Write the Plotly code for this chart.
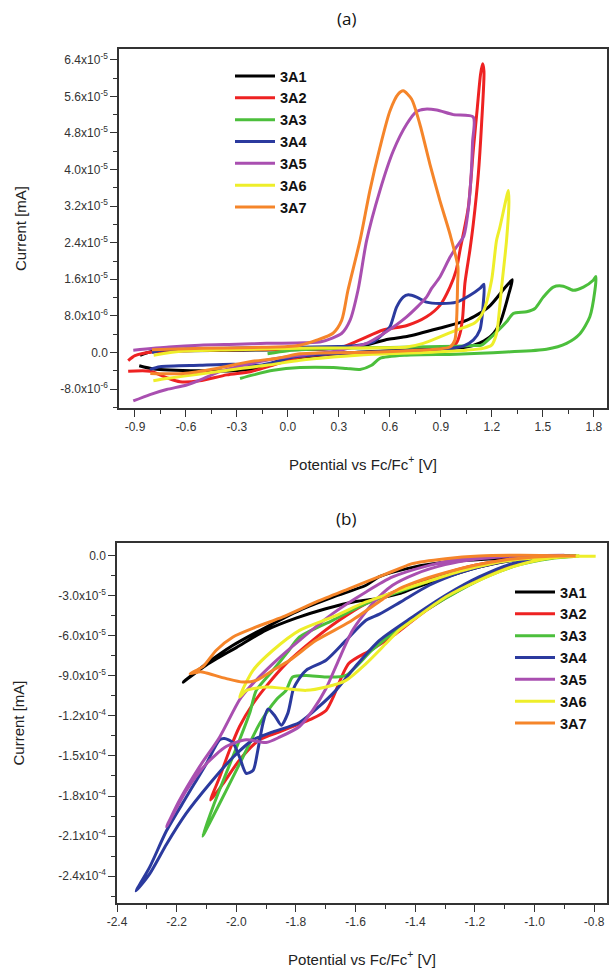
import plotly.graph_objects as go

# ---------------- data: panel (a) ----------------
series_names = ["3A1", "3A2", "3A3", "3A4", "3A5", "3A6", "3A7"]
series_colors = ["#000000", "#ee2222", "#4cbf3c", "#2b3a9e", "#a94fb0", "#eeee2a", "#f5852a"]

a_3A1_x = [-0.87, -0.8, -0.6, -0.3, 0.0, 0.3, 0.45, 0.59, 0.7, 0.89, 1.05, 1.18, 1.28, 1.32,
           1.30, 1.25, 1.20, 1.13, 1.05, 0.89, 0.6, 0.3, 0.1, -0.07, -0.15, -0.32, -0.52, -0.79, -0.875]
a_3A1_y = [-0.6e-6, 0.2e-6, 0.4e-6, 0.5e-6, 0.6e-6, 0.9e-6, 1.6e-6, 2.9e-6, 3.5e-6, 5.3e-6, 7.0e-6, 9.9e-6, 14.3e-6, 15.9e-6,
           12.9e-6, 6.7e-6, 3.8e-6, 2.1e-6, 1.2e-6, 0.8e-6, 0.4e-6, -0.2e-6, -1.0e-6, -2.0e-6, -3.3e-6, -4.0e-6, -4.0e-6, -3.6e-6, -2.9e-6]

a_3A2_x = [-0.94, -0.9, -0.8, -0.6, -0.3, 0.0, 0.3, 0.42, 0.56, 0.7, 0.815, 0.894, 0.953, 0.99, 1.012, 1.061, 1.09, 1.114, 1.133, 1.145,
           1.153, 1.139, 1.12, 1.09, 1.07, 1.041, 1.028, 1.012, 0.99, 0.933, 0.7, 0.3, 0.07, -0.09, -0.22, -0.36, -0.52, -0.635, -0.714, -0.81, -0.94]
a_3A2_y = [-1.8e-6, -0.7e-6, 0.1e-6, 0.4e-6, 0.6e-6, 0.7e-6, 1.0e-6, 2.7e-6, 4.9e-6, 5.9e-6, 7.8e-6, 10.3e-6, 14.3e-6, 18.0e-6, 22.3e-6, 31.7e-6, 44.1e-6, 53.5e-6, 60.8e-6, 63.1e-6,
           61.5e-6, 49.9e-6, 39.0e-6, 28.0e-6, 22.3e-6, 15.1e-6, 7.8e-6, 4.1e-6, 2.0e-6, 0.9e-6, 0.3e-6, -0.2e-6, -1.0e-6, -2.8e-6, -4.2e-6, -4.9e-6, -6.2e-6, -6.4e-6, -5.5e-6, -4.1e-6, -4.1e-6]

a_3A3_x = [-0.12, 0.0, 0.3, 0.6, 0.9, 1.1, 1.139, 1.208, 1.286, 1.325, 1.404, 1.453, 1.502, 1.561, 1.62, 1.679, 1.738, 1.796, 1.812,
           1.806, 1.776, 1.718, 1.639, 1.521, 1.286, 0.99, 0.698, 0.541, 0.492, 0.424, 0.345, 0.267, 0.071, -0.086, -0.204, -0.282]
a_3A3_y = [-0.3e-6, 0.4e-6, 0.9e-6, 1.1e-6, 1.3e-6, 1.5e-6, 1.6e-6, 3.8e-6, 6.7e-6, 8.5e-6, 8.9e-6, 9.6e-6, 12.1e-6, 14.3e-6, 14.5e-6, 13.6e-6, 14.3e-6, 15.8e-6, 16.6e-6,
           13.6e-6, 7.8e-6, 4.1e-6, 2.0e-6, 0.7e-6, 0.1e-6, -0.4e-6, -0.6e-6, -1.3e-6, -2.8e-6, -3.7e-6, -3.5e-6, -3.3e-6, -3.3e-6, -3.9e-6, -4.9e-6, -5.7e-6]

a_3A4_x = [-0.8, -0.75, -0.6, -0.3, 0.0, 0.3, 0.404, 0.502, 0.561, 0.6, 0.639, 0.678, 0.708, 0.757, 0.815, 0.894, 0.992, 1.071, 1.129, 1.153,
           1.149, 1.129, 1.09, 1.031, 0.894, 0.6, 0.3, 0.031, -0.067, -0.165, -0.322, -0.518, -0.753, -0.812]
a_3A4_y = [0.0e-6, 0.5e-6, 0.8e-6, 1.0e-6, 1.1e-6, 1.3e-6, 1.5e-6, 2.3e-6, 4.1e-6, 5.6e-6, 9.9e-6, 12.1e-6, 12.6e-6, 12.1e-6, 11.0e-6, 10.7e-6, 11.0e-6, 12.5e-6, 14.0e-6, 14.9e-6,
           10.7e-6, 4.9e-6, 2.7e-6, 1.4e-6, 0.7e-6, 0.3e-6, -0.2e-6, -1.0e-6, -2.0e-6, -2.8e-6, -2.6e-6, -2.8e-6, -3.1e-6, -3.7e-6]

a_3A5_x = [-0.91, -0.7, -0.518, -0.3, -0.125, 0.1, 0.2, 0.317, 0.365, 0.412, 0.463, 0.541, 0.62, 0.698, 0.757, 0.806, 0.875, 0.973, 1.09,
           1.086, 1.078, 1.06, 1.035, 0.99, 0.953, 0.894, 0.845, 0.815, 0.698, 0.561, 0.463, 0.385, 0.3, 0.1, -0.01, -0.125, -0.263, -0.4, -0.498, -0.596, -0.714, -0.812, -0.91]
a_3A5_y = [0.5e-6, 1.2e-6, 1.6e-6, 1.8e-6, 2.0e-6, 2.1e-6, 2.4e-6, 4.2e-6, 7.0e-6, 13.6e-6, 24.5e-6, 35.4e-6, 44.1e-6, 49.9e-6, 52.7e-6, 53.2e-6, 53.0e-6, 52.0e-6, 51.5e-6,
           46.0e-6, 39.0e-6, 31.0e-6, 25.5e-6, 23.0e-6, 20.8e-6, 16.5e-6, 14.0e-6, 12.1e-6, 7.8e-6, 4.1e-6, 2.0e-6, 1.2e-6, 0.4e-6, -0.5e-6, -1.0e-6, -1.7e-6, -2.8e-6, -4.2e-6, -5.7e-6, -7.1e-6, -8.1e-6, -9.2e-6, -10.6e-6]

a_3A6_x = [-0.79, -0.616, -0.322, 0.071, 0.3, 0.5, 0.698, 0.796, 0.894, 0.992, 1.1, 1.15, 1.198, 1.227, 1.247, 1.28, 1.296,
           1.3, 1.286, 1.257, 1.235, 1.227, 1.198, 1.149, 1.051, 0.8, 0.5, 0.267, 0.071, -0.125, -0.322, -0.518, -0.714, -0.792]
a_3A6_y = [-0.6e-6, 0.3e-6, 0.6e-6, 0.9e-6, 1.0e-6, 1.0e-6, 1.2e-6, 2.0e-6, 3.4e-6, 4.9e-6, 6.5e-6, 9.0e-6, 15.8e-6, 24.5e-6, 27.4e-6, 33.0e-6, 35.4e-6,
           33.0e-6, 24.5e-6, 14.3e-6, 6.0e-6, 4.1e-6, 1.6e-6, 0.9e-6, 0.5e-6, 0.0e-6, -0.4e-6, -1.0e-6, -1.7e-6, -2.8e-6, -3.7e-6, -4.7e-6, -5.7e-6, -6.2e-6]

a_3A7_x = [-0.8, -0.5, -0.2, 0.0, 0.071, 0.169, 0.265, 0.316, 0.353, 0.424, 0.482, 0.541, 0.6, 0.649, 0.678, 0.727, 0.776, 0.835, 0.894, 0.953, 1.0,
           0.998, 0.993, 0.982, 0.953, 0.7, 0.4, 0.2, 0.071, -0.067, -0.224, -0.42, -0.616, -0.81]
a_3A7_y = [0.6e-6, 0.9e-6, 1.1e-6, 1.3e-6, 1.6e-6, 2.7e-6, 4.2e-6, 7.0e-6, 13.6e-6, 24.5e-6, 35.4e-6, 44.8e-6, 52.8e-6, 56.5e-6, 57.2e-6, 55.4e-6, 49.9e-6, 41.2e-6, 33.2e-6, 25.9e-6, 18.7e-6,
           15.0e-6, 7.8e-6, 2.7e-6, 1.2e-6, 0.4e-6, 0.0e-6, -0.1e-6, -0.3e-6, -1.3e-6, -2.0e-6, -3.5e-6, -4.6e-6, -4.6e-6]

# ---------------- data: panel (b) ----------------
b_3A1_x = [-0.9, -1.018, -1.074, -1.186, -1.297, -1.409, -1.454, -1.527, -1.6, -1.7, -1.8, -1.9, -2.0, -2.1, -2.178,
           -2.1, -2.011, -1.899, -1.788, -1.676, -1.565, -1.52, -1.409, -1.297, -1.13, -1.0, -0.86]
b_3A1_y = [-0.03e-5, -0.17e-5, -0.37e-5, -0.87e-5, -1.62e-5, -2.49e-5, -2.87e-5, -3.24e-5, -3.45e-5, -4.0e-5, -4.7e-5, -5.6e-5, -6.9e-5, -8.2e-5, -9.48e-5,
           -8.1e-5, -6.73e-5, -5.36e-5, -4.11e-5, -3.12e-5, -2.24e-5, -1.6e-5, -0.9e-5, -0.5e-5, -0.25e-5, -0.1e-5, -0.03e-5]

b_3A2_x = [-0.9, -1.0, -1.1, -1.2, -1.3, -1.4, -1.49, -1.565, -1.655, -1.744, -1.833, -1.9, -1.944, -1.989, -2.023, -2.056, -2.086,
           -2.045, -1.989, -1.922, -1.855, -1.788, -1.744, -1.699, -1.677, -1.623, -1.55, -1.467, -1.363, -1.233, -1.1, -1.0, -0.9]
b_3A2_y = [-0.03e-5, -0.12e-5, -0.35e-5, -0.75e-5, -1.35e-5, -2.1e-5, -2.9e-5, -3.61e-5, -4.86e-5, -6.36e-5, -8.1e-5, -9.8e-5, -11.1e-5, -12.8e-5, -14.6e-5, -16.6e-5, -18.3e-5,
           -17.1e-5, -15.3e-5, -13.8e-5, -13.2e-5, -12.6e-5, -12.2e-5, -11.6e-5, -10.7e-5, -8.1e-5, -7.1e-5, -5.9e-5, -4.11e-5, -2.37e-5, -1.0e-5, -0.4e-5, -0.08e-5]

b_3A3_x = [-0.92, -1.05, -1.15, -1.25, -1.35, -1.454, -1.565, -1.677, -1.788, -1.83, -1.877, -1.933, -1.955, -1.989, -2.034, -2.078, -2.113,
           -2.089, -2.034, -1.978, -1.922, -1.866, -1.833, -1.811, -1.766, -1.699, -1.632, -1.545, -1.45, -1.35, -1.25, -1.15, -1.05, -0.95, -0.85]
b_3A3_y = [-0.05e-5, -0.25e-5, -0.6e-5, -1.2e-5, -1.9e-5, -2.74e-5, -3.61e-5, -4.86e-5, -6.11e-5, -7.3e-5, -8.6e-5, -10.1e-5, -11.8e-5, -13.8e-5, -16.3e-5, -18.8e-5, -21.0e-5,
           -20.0e-5, -17.6e-5, -15.1e-5, -12.6e-5, -10.8e-5, -10.1e-5, -9.1e-5, -8.98e-5, -9.1e-5, -8.98e-5, -7.1e-5, -5.4e-5, -3.9e-5, -2.6e-5, -1.5e-5, -0.7e-5, -0.25e-5, -0.05e-5]

b_3A4_x = [-0.9, -1.018, -1.1, -1.186, -1.25, -1.353, -1.45, -1.52, -1.565, -1.632, -1.699, -1.766, -1.8, -1.81, -1.827, -1.849, -1.871, -1.894, -1.911, -1.928, -1.944, -1.967, -1.989, -2.012, -2.04, -2.056, -2.101, -2.168, -2.234, -2.29, -2.336,
           -2.29, -2.234, -2.168, -2.09, -2.011, -1.944, -1.877, -1.788, -1.722, -1.666, -1.6, -1.52, -1.409, -1.298, -1.186, -1.075, -0.963, -0.88]
b_3A4_y = [-0.02e-5, -0.17e-5, -0.45e-5, -0.87e-5, -1.3e-5, -2.24e-5, -3.5e-5, -4.4e-5, -4.86e-5, -6.36e-5, -7.85e-5, -8.6e-5, -9.6e-5, -10.1e-5, -11.8e-5, -12.7e-5, -12.0e-5, -11.5e-5, -12.6e-5, -14.6e-5, -16.1e-5, -16.3e-5, -15.1e-5, -14.0e-5, -13.7e-5, -13.8e-5, -15.6e-5, -18.1e-5, -20.6e-5, -23.3e-5, -25.1e-5,
           -23.8e-5, -21.6e-5, -19.3e-5, -17.1e-5, -15.1e-5, -13.8e-5, -13.2e-5, -12.5e-5, -11.3e-5, -10.1e-5, -8.3e-5, -6.36e-5, -4.61e-5, -2.99e-5, -1.62e-5, -0.62e-5, -0.17e-5, -0.02e-5]

b_3A5_x = [-0.9, -1.075, -1.242, -1.353, -1.476, -1.565, -1.677, -1.788, -1.877, -1.955, -1.989, -2.056, -2.123, -2.19, -2.234,
           -2.168, -2.101, -2.034, -1.967, -1.9, -1.855, -1.788, -1.744, -1.7, -1.66, -1.61, -1.543, -1.476, -1.4, -1.3, -1.2, -1.1, -0.95]
b_3A5_y = [0.0e-5, -0.05e-5, -0.25e-5, -0.75e-5, -1.62e-5, -2.74e-5, -4.36e-5, -6.36e-5, -8.1e-5, -9.85e-5, -10.8e-5, -13.6e-5, -15.8e-5, -18.3e-5, -20.3e-5,
           -17.6e-5, -15.6e-5, -14.3e-5, -13.8e-5, -14.0e-5, -13.6e-5, -12.8e-5, -11.6e-5, -10.0e-5, -8.0e-5, -5.61e-5, -3.61e-5, -2.24e-5, -1.4e-5, -0.7e-5, -0.3e-5, -0.1e-5, -0.02e-5]

b_3A6_x = [-0.85, -0.95, -1.05, -1.15, -1.25, -1.35, -1.45, -1.565, -1.677, -1.788, -1.877, -1.944, -1.989,
           -1.966, -1.9, -1.833, -1.766, -1.699, -1.632, -1.565, -1.498, -1.454, -1.409, -1.298, -1.186, -1.075, -0.963, -0.852, -0.795]
b_3A6_y = [-0.03e-5, -0.1e-5, -0.3e-5, -0.65e-5, -1.2e-5, -1.9e-5, -2.6e-5, -3.49e-5, -4.61e-5, -5.61e-5, -7.1e-5, -8.6e-5, -10.6e-5,
           -10.1e-5, -9.85e-5, -9.97e-5, -10.1e-5, -9.85e-5, -9.35e-5, -8.1e-5, -6.6e-5, -5.6e-5, -4.86e-5, -3.12e-5, -1.87e-5, -0.87e-5, -0.25e-5, -0.07e-5, -0.07e-5]

b_3A7_x = [-0.862, -1.052, -1.186, -1.298, -1.41, -1.454, -1.51, -1.621, -1.732, -1.844, -1.933, -2.011, -2.067, -2.111, -2.155,
           -2.12, -2.1, -2.033, -1.978, -1.933, -1.877, -1.821, -1.732, -1.621, -1.51, -1.454, -1.4, -1.3, -1.2, -1.1, -1.0, -0.9]
b_3A7_y = [-0.05e-5, 0.0e-5, -0.05e-5, -0.25e-5, -0.62e-5, -1.0e-5, -1.5e-5, -2.49e-5, -3.49e-5, -4.61e-5, -5.36e-5, -6.11e-5, -7.1e-5, -8.3e-5, -8.85e-5,
           -8.7e-5, -8.8e-5, -9.22e-5, -9.48e-5, -9.35e-5, -8.6e-5, -7.85e-5, -6.36e-5, -4.99e-5, -3.3e-5, -2.5e-5, -2.0e-5, -1.3e-5, -0.75e-5, -0.35e-5, -0.12e-5, -0.03e-5]

# ---------------- ticks ----------------
a_xtick_vals = [-0.9, -0.6, -0.3, 0.0, 0.3, 0.6, 0.9, 1.2, 1.5, 1.8]
a_xtick_text = ["-0.9", "-0.6", "-0.3", "0.0", "0.3", "0.6", "0.9", "1.2", "1.5", "1.8"]
a_ytick_vals = [-8e-6, 0.0, 8e-6, 1.6e-5, 2.4e-5, 3.2e-5, 4.0e-5, 4.8e-5, 5.6e-5, 6.4e-5]
a_ytick_text = ["-8.0x10<sup>-6</sup>", "0.0", "8.0x10<sup>-6</sup>", "1.6x10<sup>-5</sup>", "2.4x10<sup>-5</sup>",
                "3.2x10<sup>-5</sup>", "4.0x10<sup>-5</sup>", "4.8x10<sup>-5</sup>", "5.6x10<sup>-5</sup>", "6.4x10<sup>-5</sup>"]
b_xtick_vals = [-2.4, -2.2, -2.0, -1.8, -1.6, -1.4, -1.2, -1.0, -0.8]
b_xtick_text = ["-2.4", "-2.2", "-2.0", "-1.8", "-1.6", "-1.4", "-1.2", "-1.0", "-0.8"]
b_ytick_vals = [0.0, -3e-5, -6e-5, -9e-5, -1.2e-4, -1.5e-4, -1.8e-4, -2.1e-4, -2.4e-4]
b_ytick_text = ["0.0", "-3.0x10<sup>-5</sup>", "-6.0x10<sup>-5</sup>", "-9.0x10<sup>-5</sup>", "-1.2x10<sup>-4</sup>",
                "-1.5x10<sup>-4</sup>", "-1.8x10<sup>-4</sup>", "-2.1x10<sup>-4</sup>", "-2.4x10<sup>-4</sup>"]

panel_a = [(a_3A1_x, a_3A1_y), (a_3A2_x, a_3A2_y), (a_3A3_x, a_3A3_y), (a_3A4_x, a_3A4_y),
           (a_3A5_x, a_3A5_y), (a_3A6_x, a_3A6_y), (a_3A7_x, a_3A7_y)]
panel_b = [(b_3A1_x, b_3A1_y), (b_3A2_x, b_3A2_y), (b_3A3_x, b_3A3_y), (b_3A4_x, b_3A4_y),
           (b_3A5_x, b_3A5_y), (b_3A6_x, b_3A6_y), (b_3A7_x, b_3A7_y)]

W, H = 609, 968
FONT = "Liberation Sans, Arial, sans-serif"

fig = go.Figure()
for (xs, ys), name, col in zip(panel_a, series_names, series_colors):
    fig.add_trace(go.Scatter(x=xs, y=ys, mode="lines", name=name, xaxis="x", yaxis="y", legend="legend",
                             line=dict(color=col, width=3, shape="spline", smoothing=0.7)))
for (xs, ys), name, col in zip(panel_b, series_names, series_colors):
    fig.add_trace(go.Scatter(x=xs, y=ys, mode="lines", name=name, xaxis="x2", yaxis="y2", legend="legend2",
                             line=dict(color=col, width=3, shape="spline", smoothing=0.7)))

def px_x(p):
    return p / W

def px_y(p):
    return 1 - p / H

axis_common = dict(showgrid=False, zeroline=False, showline=True, linecolor="#333333", linewidth=1.5,
                   mirror=True, ticks="outside", ticklen=7, tickwidth=1.2, tickcolor="#333333",
                   tickfont=dict(family=FONT, size=12, color="#333333"), automargin=False,
                   title_font=dict(family=FONT, size=15, color="#222222"))

fig.update_layout(
    width=W, height=H, margin=dict(l=0, r=0, t=0, b=0),
    paper_bgcolor="white", plot_bgcolor="white",
    xaxis=dict(domain=[px_x(119), px_x(607)], anchor="y", range=[-0.994, 1.877],
               tickmode="array", tickvals=a_xtick_vals, ticktext=a_xtick_text,
               minor=dict(ticks="outside", ticklen=4, tick0=0, dtick=0.15, tickcolor="#333333"),
               title=dict(text="Potential vs Fc/Fc<sup>+</sup> [V]", standoff=26), **axis_common),
    yaxis=dict(domain=[px_y(408), px_y(49)], anchor="x", range=[-1.214e-5, 6.635e-5],
               tickmode="array", tickvals=a_ytick_vals, ticktext=a_ytick_text,
               minor=dict(ticks="outside", ticklen=4, tick0=0, dtick=4e-6, tickcolor="#333333"),
               title=dict(text="Current [mA]", standoff=30), **axis_common),
    xaxis2=dict(domain=[px_x(117), px_x(607)], anchor="y2", range=[-2.4, -0.757],
                tickmode="array", tickvals=b_xtick_vals, ticktext=b_xtick_text,
                minor=dict(ticks="outside", ticklen=4, tick0=0, dtick=0.1, tickcolor="#333333"),
                title=dict(text="Potential vs Fc/Fc<sup>+</sup> [V]", standoff=26), **axis_common),
    yaxis2=dict(domain=[px_y(903), px_y(543)], anchor="x2", range=[-2.6e-4, 9.2e-6],
                tickmode="array", tickvals=b_ytick_vals, ticktext=b_ytick_text,
                minor=dict(ticks="outside", ticklen=4, tick0=0, dtick=1.5e-5, tickcolor="#333333"),
                title=dict(text="Current [mA]", standoff=30), **axis_common),
    legend=dict(x=px_x(230), y=px_y(60), xanchor="left", yanchor="top", bgcolor="rgba(0,0,0,0)",
                font=dict(family=FONT, size=14.5, color="#111111", weight="bold"), itemwidth=40,
                tracegroupgap=0),
    legend2=dict(x=px_x(510), y=px_y(576), xanchor="left", yanchor="top", bgcolor="rgba(0,0,0,0)",
                 font=dict(family=FONT, size=14.5, color="#111111", weight="bold"), itemwidth=40,
                 tracegroupgap=0),
    annotations=[
        dict(text="(a)", x=px_x(346), y=px_y(19), xref="paper", yref="paper", showarrow=False,
             xanchor="center", yanchor="middle",
             font=dict(family="Open Sans, sans-serif", size=17, color="#111111")),
        dict(text="(b)", x=px_x(346), y=px_y(518), xref="paper", yref="paper", showarrow=False,
             xanchor="center", yanchor="middle",
             font=dict(family="Open Sans, sans-serif", size=17, color="#111111")),
    ],
    showlegend=True,
)

fig.write_html("out.html", config={"displayModeBar": False},
               post_script="document.body.style.margin='0px';document.body.style.padding='0px';"
                           "document.documentElement.style.overflow='hidden';")
